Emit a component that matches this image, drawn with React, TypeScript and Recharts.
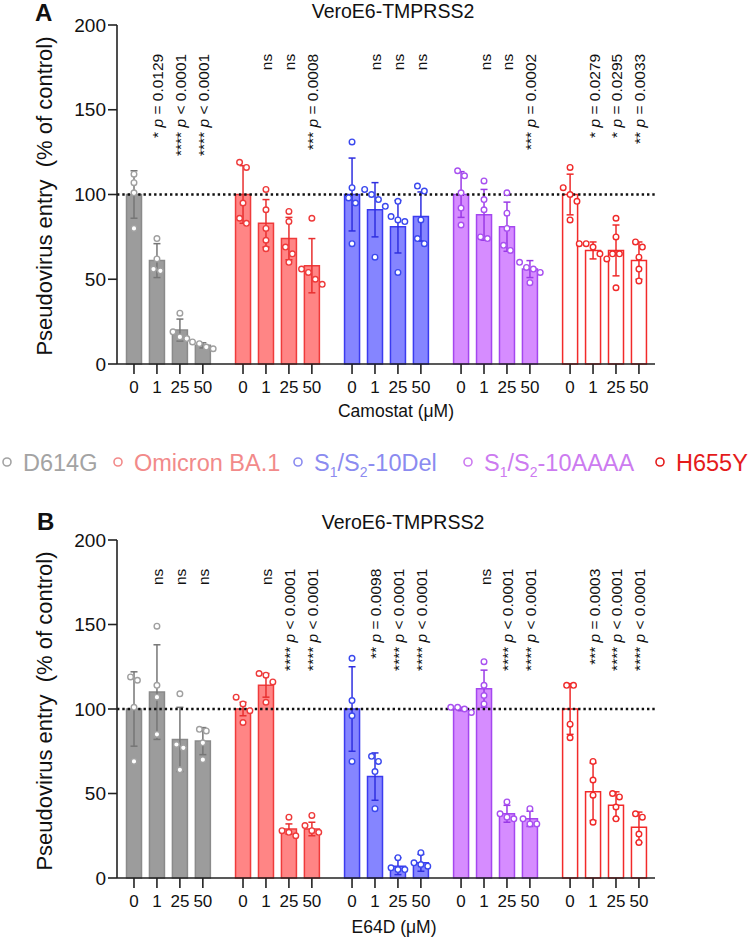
import React from 'react';
import { ComposedChart, Bar, Cell, ErrorBar, Scatter, XAxis, YAxis, ReferenceLine } from 'recharts';

const variants = ['D614G', 'Omicron BA.1', 'S1/S2-10Del', 'S1/S2-10AAAA', 'H655Y'];
const doses = ['0', '1', '25', '50'];
const yTicks = [0, 50, 100, 150, 200];

// Camostat (panel A): mean, SD and single replicates per variant x dose
const camMeans = [
  [100, 61, 20, 11],
  [100, 83, 74, 58],
  [100, 91, 81, 87],
  [100, 88, 81, 56],
  [100, 67, 67, 61],
];
const camSd = [
  [14, 10, 6.5, 1.5],
  [17, 14, 12.5, 16],
  [21.5, 16, 15.5, 14.5],
  [13.5, 15, 14.5, 5],
  [12, 5, 15, 11],
];
const camPoints = [
  [[112, 107, 101, 80], [74, 62, 56, 55], [30, 19, 16, 15], [13, 12, 10, 9]],
  [[119, 116, 95, 86, 83], [103, 91, 80, 73, 68], [90, 84, 69, 65, 60], [86, 56, 54, 50, 47]],
  [[131, 104, 98, 95, 71], [103, 100, 97, 93, 63], [96, 87, 85, 84, 54], [105, 102, 85, 74, 71]],
  [[114, 111, 101, 92, 82], [108, 97, 91, 75, 74], [101, 89, 80, 70, 67], [60, 57, 56, 54, 48]],
  [[116, 104, 100, 96, 85], [71, 71, 69, 65, 62], [86, 75, 65, 65, 45], [72, 69, 63, 56, 49]],
];
const camSig = [
  ['', '* p = 0.0129', '**** p < 0.0001', '**** p < 0.0001'],
  ['', 'ns', 'ns', '*** p = 0.0008'],
  ['', 'ns', 'ns', 'ns'],
  ['', 'ns', 'ns', '*** p = 0.0002'],
  ['', '* p = 0.0279', '* p = 0.0295', '** p = 0.0033'],
];

// E64D (panel B)
const e64Means = [
  [100, 110, 82, 81],
  [100, 114, 29, 29],
  [100, 60, 7, 9],
  [100, 112, 38, 35],
  [100, 51, 43, 30],
];
const e64Sd = [
  [22, 28, 19, 8],
  [4, 7, 3, 4],
  [25, 14, 5, 5],
  [1, 11, 5, 4.5],
  [15, 17, 8, 9],
];
const e64Points = [
  [[119, 117, 101, 69], [149, 114, 107, 85], [109, 79, 77, 64], [88, 87, 80, 70]],
  [[107, 103, 99, 92], [121, 120, 116, 104], [36, 28, 27, 25], [37, 31, 28, 27]],
  [[130, 105, 96, 69], [72, 69, 63, 41], [12, 6, 5, 5], [15, 9, 7, 8]],
  [[101, 101, 100, 98], [128, 114, 108, 103], [45, 38, 36, 35], [41, 35, 32, 32]],
  [[114, 114, 91, 83], [69, 58, 49, 33], [50, 48, 42, 35], [38, 36, 26, 21]],
];
const e64Sig = [
  ['', 'ns', 'ns', 'ns'],
  ['', 'ns', '**** p < 0.0001', '**** p < 0.0001'],
  ['', '** p = 0.0098', '**** p < 0.0001', '**** p < 0.0001'],
  ['', 'ns', '**** p < 0.0001', '**** p < 0.0001'],
  ['', '*** p = 0.0003', '**** p < 0.0001', '**** p < 0.0001'],
];

const SIG_Y = 183; // where the rotated labels end (axis units)

// styling
const FONT = '"Liberation Sans", Arial, Helvetica, sans-serif';
const FILL = ['#9c9c9c', '#ff8585', '#8585ff', '#d68cff', '#ffffff'];
const STROKE = ['#8a8a8a', '#ef3b3b', '#3b3bef', '#a447ef', '#f22a2a'];
const ERR = ['#767676', '#e83030', '#2f2fe0', '#9a3ae6', '#ee2a2a'];
const PT = ['#a0a0a0', '#ee3a3a', '#3a48ee', '#a850f0', '#f02a2a'];
const LEGEND_COLOR = ['#a3a3a3', '#f28a8a', '#8b8bf0', '#cc7bf0', '#e41b1b'];
const GROUP_STEP = 4.75;
const X_DOMAIN = [-0.74, 22.7];
const JITTER = 0.3;
const CLOSE = 4;

function spread(vals: number[]) {
  const order = vals.map((v, k) => ({ v, k })).sort((a, b) => b.v - a.v);
  const offs = new Array(vals.length).fill(0);
  let cluster: { v: number; k: number }[] = [];
  const flush = () => {
    cluster.forEach((p, j) => (offs[p.k] = (j - (cluster.length - 1) / 2) * JITTER));
    cluster = [];
  };
  order.forEach((p) => {
    if (cluster.length && cluster[cluster.length - 1].v - p.v > CLOSE) flush();
    cluster.push(p);
  });
  flush();
  return offs;
}

const xOf = (g: number, i: number) => g * GROUP_STEP + i;
const tickXs = variants.flatMap((_, g) => doses.map((__, i) => xOf(g, i)));
const doseOf = (v: number) => doses[Math.round(v - Math.floor(v / GROUP_STEP + 0.01) * GROUP_STEP)];

const XTick = (props: any) => {
  const { x, y, payload } = props;
  return (
    <text x={x} y={y + 17} textAnchor="middle" fontSize={17} fontFamily={FONT} fill="#111">
      {doseOf(payload.value)}
    </text>
  );
};

const SigLabel = (props: any) => {
  const { cx, cy, payload } = props;
  const m = /^(\*+) p (.*)$/.exec(payload.label);
  return (
    <text
      transform={`translate(${cx + 6.5},${cy}) rotate(-90)`}
      textAnchor="end"
      fontSize={15.5}
      fontFamily={FONT}
      fill="#111"
    >
      {m ? (
        <>
          {m[1]}{' '}
          <tspan fontStyle="italic">p</tspan>
          {' ' + m[2]}
        </>
      ) : (
        payload.label
      )}
    </text>
  );
};

const makeDot = (color: string) => (props: any) =>
  <circle cx={props.cx} cy={props.cy} r={2.8} fill="#fff" stroke={color} strokeWidth={1.4} />;

function Panel({ means, sds, points, sig, bottom }: any) {
  const rows: any[] = [];
  means.forEach((m: number[], g: number) =>
    m.forEach((v, i) => rows.push({ x: xOf(g, i), mean: v, g, ['sd' + g]: sds[g][i] }))
  );
  const pointSets = points.map((grp: number[][], g: number) =>
    grp.flatMap((vals, i) => {
      const offs = spread(vals);
      return vals.map((v, k) => ({ x: xOf(g, i) + offs[k], y: v }));
    })
  );
  const sigRows = sig.flatMap((grp: string[], g: number) =>
    grp.map((label, i) => ({ x: xOf(g, i), y: SIG_Y, label })).filter((r) => r.label)
  );
  return (
    <ComposedChart width={750} height={400} data={rows} margin={{ top: 25, right: 95, bottom, left: 0 }}>
      <XAxis
        xAxisId="bars"
        type="number"
        dataKey="x"
        domain={X_DOMAIN}
        ticks={tickXs}
        interval={0}
        tick={<XTick />}
        tickSize={10}
        height={30}
        stroke="#222"
        strokeWidth={1.6}
        allowDataOverflow
      />
      <XAxis xAxisId="pts" type="number" dataKey="x" domain={X_DOMAIN} hide allowDataOverflow />
      <YAxis
        type="number"
        domain={[0, 200]}
        ticks={yTicks}
        width={117}
        tickSize={9}
        tickMargin={2}
        stroke="#222"
        strokeWidth={1.6}
        tick={{ fontSize: 19, fill: '#111', fontFamily: FONT }}
      />
      <Bar xAxisId="bars" dataKey="mean" barSize={15} isAnimationActive={false} strokeWidth={1.5}>
        {rows.map((r, k) => (
          <Cell key={k} fill={FILL[r.g]} stroke={STROKE[r.g]} />
        ))}
        {variants.map((_, g) => (
          <ErrorBar key={g} dataKey={'sd' + g} direction="y" width={3.5} stroke={ERR[g]} strokeWidth={1.5} />
        ))}
      </Bar>
      <ReferenceLine xAxisId="bars" y={100} stroke="#111" strokeWidth={2.6} strokeDasharray="2.4 2.9" />
      {pointSets.map((d: any[], g: number) => (
        <Scatter key={g} xAxisId="pts" data={d} dataKey="y" shape={makeDot(PT[g])} isAnimationActive={false} />
      ))}
      <Scatter xAxisId="pts" data={sigRows} dataKey="y" shape={<SigLabel />} isAnimationActive={false} />
    </ComposedChart>
  );
}

const variantLabel = (name: string) => {
  const m = /^S1\/S2(.*)$/.exec(name);
  if (!m) return name;
  return (
    <>
      S<tspan fontSize={14} dy={6}>1</tspan>
      <tspan dy={-6}>/S</tspan>
      <tspan fontSize={14} dy={6}>2</tspan>
      <tspan dy={-6}>{m[1]}</tspan>
    </>
  );
};

const LEGEND_X = [7, 118, 298, 468, 660];

export default function App() {
  return (
    <div style={{ position: 'relative', width: 750, height: 943, background: '#fff', fontFamily: FONT }}>
      <style>{'body{margin:0}'}</style>
      <div style={{ position: 'absolute', left: 0, top: 0 }}>
        <Panel means={camMeans} sds={camSd} points={camPoints} sig={camSig} bottom={6} />
      </div>
      <div style={{ position: 'absolute', left: 0, top: 515 }}>
        <Panel means={e64Means} sds={e64Sd} points={e64Points} sig={e64Sig} bottom={7} />
      </div>
      <svg width={750} height={943} style={{ position: 'absolute', left: 0, top: 0, pointerEvents: 'none' }} fontFamily={FONT}>
        <text x={35} y={21} fontSize={24} fontWeight="bold" fill="#111">A</text>
        <text x={393} y={17.5} fontSize={19.5} textAnchor="middle" fill="#111">VeroE6-TMPRSS2</text>
        <text transform="translate(52,196) rotate(-90)" fontSize={22} textAnchor="middle" fill="#111" xmlSpace="preserve">
          Pseudovirus entry  (% of control)
        </text>
        <text x={396} y={417} fontSize={17.5} textAnchor="middle" fill="#111">Camostat (μM)</text>

        {variants.map((v, g) => (
          <g key={v}>
            <circle cx={LEGEND_X[g]} cy={462} r={4} fill="none" stroke={LEGEND_COLOR[g]} strokeWidth={1.6} />
            <text x={LEGEND_X[g] + 16} y={471} fontSize={23.5} fill={LEGEND_COLOR[g]}>
              {variantLabel(v)}
            </text>
          </g>
        ))}

        <text x={37} y={530} fontSize={24} fontWeight="bold" fill="#111">B</text>
        <text x={403} y={529} fontSize={19.5} textAnchor="middle" fill="#111">VeroE6-TMPRSS2</text>
        <text transform="translate(52,711) rotate(-90)" fontSize={22} textAnchor="middle" fill="#111" xmlSpace="preserve">
          Pseudovirus entry  (% of control)
        </text>
        <text x={394} y={933} fontSize={17.5} textAnchor="middle" fill="#111">E64D (μM)</text>
      </svg>
    </div>
  );
}
